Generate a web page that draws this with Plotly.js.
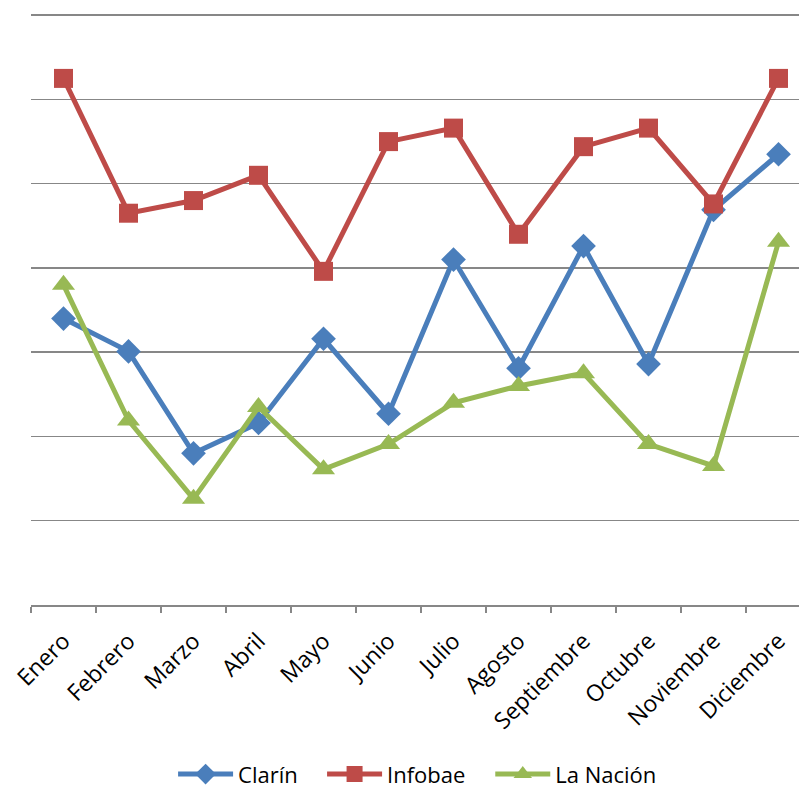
<!DOCTYPE html>
<html>
<head>
<meta charset="utf-8">
<script src="https://cdn.plot.ly/plotly-3.0.1.min.js"></script>
<style>html,body{margin:0;padding:0;background:#fff;overflow:hidden}#chart{width:799px;height:789px}</style>
</head>
<body>
<div id="chart"></div>
<script>
const months = ["Enero","Febrero","Marzo","Abril","Mayo","Junio","Julio","Agosto","Septiembre","Octubre","Noviembre","Diciembre"];
const clarin = [3.40, 3.01, 1.80, 2.16, 3.16, 2.27, 4.10, 2.81, 4.26, 2.86, 4.69, 5.35];
const infobae = [6.25, 4.65, 4.80, 5.10, 3.96, 5.50, 5.66, 4.40, 5.44, 5.66, 4.76, 6.25];
const lanacion = [3.80, 2.19, 1.26, 2.35, 1.61, 1.91, 2.40, 2.60, 2.75, 1.91, 1.65, 4.31];

function tr(name, y, color, symbol, size, leg) {
  return {
    type: "scatter", mode: "lines+markers", name: name, legend: leg,
    x: months, y: y,
    line: {color: color, width: 5},
    marker: {symbol: symbol, size: size, color: color}
  };
}
const data = [
  tr("Clarín", clarin, "#4A7EBB", "diamond", 19, "legend"),
  tr("Infobae", infobae, "#BE4B48", "square", 19, "legend2"),
  tr("La Nación", lanacion, "#98B954", "triangle-up", 20, "legend3")
];
function leg(x) {
  return {orientation: "h", x: x, xanchor: "left", y: -0.285, yanchor: "middle",
          itemwidth: 55, font: {size: 22}, bgcolor: "rgba(0,0,0,0)"};
}
const layout = {
  width: 799, height: 789,
  margin: {l: 31, r: 0, t: 11, b: 184, autoexpand: false},
  paper_bgcolor: "#fff", plot_bgcolor: "#fff",
  font: {family: "'Open Sans', Lato, sans-serif", size: 23, color: "#000"},
  showlegend: true,
  legend: leg(0.185), legend2: leg(0.379), legend3: leg(0.598),
  xaxis: {
    type: "category", range: [-0.5, 11.315], automargin: false,
    tickson: "boundaries", ticks: "outside", ticklen: 6, tickcolor: "#878787", tickwidth: 1.5,
    showline: true, linecolor: "#878787", linewidth: 1.5,
    showgrid: false, tickangle: -45, tickfont: {size: 23}, ticklabelstandoff: 12
  },
  yaxis: {
    range: [0, 7.05], dtick: 1, showticklabels: false, ticks: "", automargin: false,
    showgrid: true, gridcolor: "#878787", gridwidth: 1.5,
    zeroline: false, showline: false, fixedrange: true
  }
};
Plotly.newPlot("chart", data, layout, {displayModeBar: false, staticPlot: true});
</script>
</body>
</html>
